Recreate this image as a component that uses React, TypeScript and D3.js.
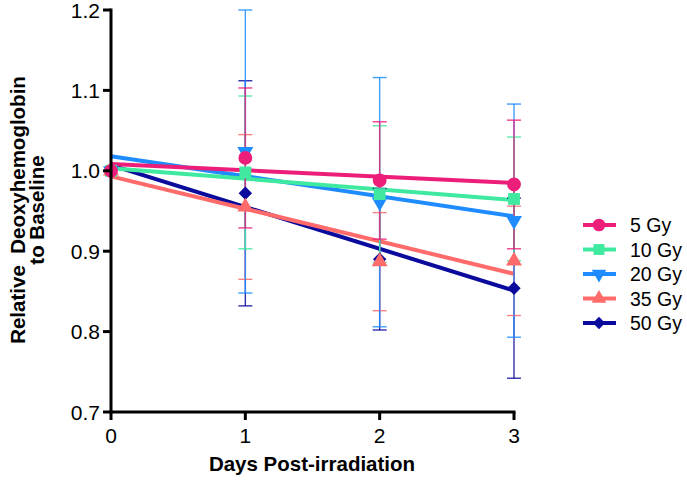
import React from 'react'
import * as d3 from 'd3'

const days = [0, 1, 2, 3]
const doses = ['5 Gy', '10 Gy', '20 Gy', '35 Gy', '50 Gy']
const colors = ['#ec1e79', '#3fe9a0', '#1e8cff', '#ff6b6b', '#0a0a9c']

const mean5 = [1.0, 1.016, 0.988, 0.983]
const sd5 = [0, 0.087, 0.073, 0.08]
const mean10 = [1.0, 0.998, 0.971, 0.965]
const sd10 = [0, 0.095, 0.085, 0.077]
const mean20 = [1.0, 1.024, 0.961, 0.938]
const sd20 = [0, 0.176, 0.155, 0.145]
const mean35 = [1.0, 0.955, 0.887, 0.888]
const sd35 = [0, 0.09, 0.061, 0.068]
const mean50 = [1.0, 0.972, 0.89, 0.854]
const sd50 = [0, 0.14, 0.088, 0.112]

const yTicks = [0.7, 0.8, 0.9, 1.0, 1.1, 1.2]
const xTicks = [0, 1, 2, 3]

const means = [mean5, mean10, mean20, mean35, mean50]
const sds = [sd5, sd10, sd20, sd35, sd50]

// least squares fit, the chart draws the trend line rather than joining points
const fit = (xs: number[], ys: number[]) => {
    const mx = d3.mean(xs), my = d3.mean(ys)
    const sxy = d3.sum(xs, (x, i) => (x - mx) * (ys[i] - my))
    const sxx = d3.sum(xs, x => (x - mx) ** 2)
    const slope = sxy / sxx
    return { slope, intercept: my - slope * mx }
}

const shapes = [
    { type: d3.symbolCircle, size: 150, rotate: 0 },
    { type: d3.symbolSquare, size: 140, rotate: 0 },
    { type: d3.symbolTriangle, size: 110, rotate: 180 },
    { type: d3.symbolTriangle, size: 110, rotate: 0 },
    { type: d3.symbolSquare, size: 90, rotate: 45 }
]

const font = 'Arial, "Liberation Sans", sans-serif'

export default function App() {
    const x = d3.scaleLinear().domain([0, 3]).range([111, 514])
    const y = d3.scaleLinear().domain([0.7, 1.2]).range([412, 10])
    const legendY = d3.scalePoint().domain(doses).range([225, 323])

    const order = [4, 3, 2, 1, 0]
    const capW = 7

    return (
        <svg width={687} height={480} style={{ position: 'absolute', left: 0, top: 0, background: '#fff' }} fontFamily={font}>
            {/* fit lines */}
            {order.map(i => {
                const { slope, intercept } = fit(days, means[i])
                return (
                    <line key={'l' + i} x1={x(0)} x2={x(3)}
                        y1={y(intercept)} y2={y(intercept + slope * 3)}
                        stroke={colors[i]} strokeWidth={4} />
                )
            })}

            {/* error bars */}
            {order.map(i => (
                <g key={'e' + i} stroke={colors[i]} strokeWidth={1.4} strokeOpacity={0.85}>
                    {days.map((d, j) => sds[i][j] > 0 && (
                        <g key={j}>
                            <line x1={x(d)} x2={x(d)} y1={y(means[i][j] + sds[i][j])} y2={y(means[i][j] - sds[i][j])} />
                            <line x1={x(d) - capW} x2={x(d) + capW} y1={y(means[i][j] + sds[i][j])} y2={y(means[i][j] + sds[i][j])} />
                            <line x1={x(d) - capW} x2={x(d) + capW} y1={y(means[i][j] - sds[i][j])} y2={y(means[i][j] - sds[i][j])} />
                        </g>
                    ))}
                </g>
            ))}

            {/* markers */}
            {order.map(i => {
                const s = shapes[i]
                const path = d3.symbol().type(s.type).size(s.size)()
                return (
                    <g key={'m' + i} fill={colors[i]}>
                        {days.map((d, j) => (
                            <path key={j} d={path} transform={`translate(${x(d)},${y(means[i][j])}) rotate(${s.rotate})`} />
                        ))}
                    </g>
                )
            })}

            {/* y axis */}
            <g stroke="#000" strokeWidth={3}>
                <line x1={x(0)} x2={x(0)} y1={y(1.2) - 1.5} y2={y(0.7) + 1.5} />
                {yTicks.map(t => (
                    <line key={t} x1={x(0) - 8} x2={x(0)} y1={y(t)} y2={y(t)} />
                ))}
                <line x1={x(0) - 1.5} x2={x(3) + 1.5} y1={y(0.7)} y2={y(0.7)} />
                {xTicks.map(t => (
                    <line key={t} x1={x(t)} x2={x(t)} y1={y(0.7)} y2={y(0.7) + 8} />
                ))}
            </g>
            {yTicks.map(t => (
                <text key={t} x={x(0) - 11} y={y(t)} dy="0.36em" textAnchor="end" fontSize={21}>
                    {d3.format('.1f')(t)}
                </text>
            ))}
            {xTicks.map(t => (
                <text key={t} x={x(t)} y={443} textAnchor="middle" fontSize={21}>{t}</text>
            ))}

            <text x={312} y={471} textAnchor="middle" fontSize={20.5} fontWeight="bold">Days Post-irradiation</text>
            <text transform="translate(25,210) rotate(-90)" textAnchor="middle" fontSize={20.5} fontWeight="bold" xmlSpace="preserve">
                Relative  Deoxyhemoglobin
            </text>
            <text transform="translate(44,210) rotate(-90)" textAnchor="middle" fontSize={20.5} fontWeight="bold">to Baseline</text>

            {/* legend */}
            {doses.map((d, i) => {
                const s = shapes[i]
                const path = d3.symbol().type(s.type).size(s.size * 0.85)()
                const ly = legendY(d)
                return (
                    <g key={d}>
                        <line x1={583} x2={616} y1={ly} y2={ly} stroke={colors[i]} strokeWidth={4} />
                        <path d={path} fill={colors[i]} transform={`translate(599,${ly}) rotate(${s.rotate})`} />
                        <text x={630} y={ly} dy="0.36em" fontSize={19.5}>{d}</text>
                    </g>
                )
            })}
        </svg>
    )
}
